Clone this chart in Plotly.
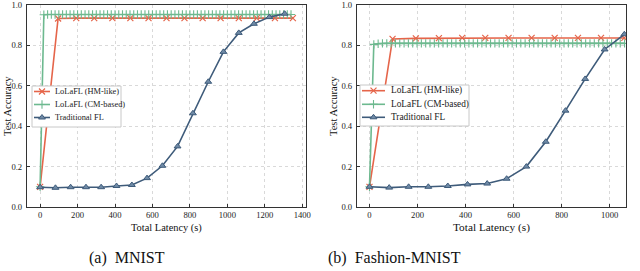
import plotly.graph_objects as go

# ---------------- data: MNIST ----------------
mn_hm_x = [0, 96, 193, 289, 386, 482, 579, 675, 771, 868, 964, 1061, 1157, 1254, 1350]
mn_hm_y = [0.10, 0.933, 0.935, 0.935, 0.935, 0.935, 0.935, 0.935, 0.935, 0.935, 0.935, 0.935, 0.935, 0.935, 0.935]

mn_cm_x = [0, 20, 40, 60, 80, 100, 120, 140, 160, 180, 200, 220, 240, 260, 280, 300, 320, 340,
           360, 380, 400, 420, 440, 460, 480, 500, 520, 540, 560, 580, 600, 620, 640, 660, 680,
           700, 720, 740, 760, 780, 800, 820, 840, 860, 880, 900, 920, 940, 960, 980, 1000,
           1020, 1040, 1060, 1080, 1100, 1120, 1140, 1160, 1180, 1200, 1220, 1240, 1260, 1280,
           1300, 1320, 1340]
mn_cm_y = [0.10, 0.952, 0.953, 0.953, 0.953, 0.953, 0.953, 0.953, 0.953, 0.953, 0.953, 0.953,
           0.953, 0.953, 0.953, 0.953, 0.953, 0.953, 0.953, 0.953, 0.953, 0.953, 0.953, 0.953,
           0.953, 0.953, 0.953, 0.953, 0.953, 0.953, 0.953, 0.953, 0.953, 0.953, 0.953, 0.953,
           0.953, 0.953, 0.953, 0.953, 0.953, 0.953, 0.953, 0.953, 0.953, 0.953, 0.953, 0.953,
           0.953, 0.953, 0.953, 0.953, 0.953, 0.953, 0.953, 0.953, 0.953, 0.953, 0.953, 0.953,
           0.953, 0.953, 0.953, 0.953, 0.953, 0.953, 0.953, 0.953]

mn_tr_x = [0, 82, 163, 245, 326, 408, 490, 571, 653, 734, 816, 898, 979, 1061, 1142, 1224, 1306]
mn_tr_y = [0.098, 0.095, 0.098, 0.098, 0.098, 0.104, 0.109, 0.143, 0.204, 0.300, 0.464,
           0.620, 0.768, 0.862, 0.907, 0.940, 0.957]

# ---------------- data: Fashion-MNIST ----------------
fm_hm_x = [0, 96, 193, 289, 386, 482, 579, 675, 771, 868, 964, 1061]
fm_hm_y = [0.10, 0.832, 0.835, 0.836, 0.837, 0.837, 0.837, 0.837, 0.837, 0.837, 0.837, 0.837]

fm_cm_x = [0, 18, 36, 54, 72, 90, 108, 126, 144, 162, 180, 198, 216, 234, 252, 270, 288, 306,
           324, 342, 360, 378, 396, 414, 432, 450, 468, 486, 504, 522, 540, 558, 576, 594, 612,
           630, 648, 666, 684, 702, 720, 738, 756, 774, 792, 810, 828, 846, 864, 882, 900, 918,
           936, 954, 972, 990, 1008, 1026, 1044, 1062]
fm_cm_y = [0.10, 0.805, 0.808, 0.81, 0.81, 0.81, 0.81, 0.81, 0.81, 0.81, 0.81, 0.81, 0.81, 0.81,
           0.81, 0.81, 0.81, 0.81, 0.81, 0.81, 0.81, 0.81, 0.81, 0.81, 0.81, 0.81, 0.81, 0.81,
           0.81, 0.81, 0.81, 0.81, 0.81, 0.81, 0.81, 0.81, 0.81, 0.81, 0.81, 0.81, 0.81, 0.81,
           0.81, 0.81, 0.81, 0.81, 0.81, 0.81, 0.81, 0.81, 0.81, 0.81, 0.81, 0.81, 0.81, 0.81,
           0.81, 0.81, 0.81, 0.81]

fm_tr_x = [0, 82, 163, 245, 326, 408, 490, 571, 653, 734, 816, 898, 979, 1061]
fm_tr_y = [0.100, 0.096, 0.100, 0.100, 0.104, 0.112, 0.116, 0.140, 0.200, 0.323, 0.477,
           0.634, 0.780, 0.855]

series_names = ["LoLaFL (HM-like)", "LoLaFL (CM-based)", "Traditional FL"]
x_ticks_a = [0, 200, 400, 600, 800, 1000, 1200, 1400]
x_ticks_b = [0, 200, 400, 600, 800, 1000]
y_ticks = [0.0, 0.2, 0.4, 0.6, 0.8, 1.0]
captions = ["(a)\u00a0\u00a0MNIST", "(b)\u00a0\u00a0Fashion-MNIST"]
x_title = "Total Latency (s)"
y_title = "Test Accuracy"

C_HM = "#E5654A"
C_CM = "#6DB98F"
C_TR = "#3E5B7A"
FONT = "Liberation Serif, Times New Roman, DejaVu Serif, serif"

W, H = 640, 271

def px_x(p):
    return p / W

def px_y(p):
    return 1 - p / H

styles = [
    dict(line=dict(color=C_HM, width=1.6),
         marker=dict(symbol="x-thin-open", size=6, color=C_HM, line=dict(color=C_HM, width=1.2))),
    dict(line=dict(color=C_CM, width=1.6),
         marker=dict(symbol="cross-thin-open", size=6, color=C_CM, line=dict(color=C_CM, width=1.1))),
    dict(line=dict(color=C_TR, width=1.6),
         marker=dict(symbol="triangle-up", size=6, color="#6F8AA6", line=dict(color=C_TR, width=1))),
]

# legend geometry (pixel layout of the manual legend boxes)
legends = [
    dict(box=(32, 86, 121, 127), rows=(91.5, 104.5, 117.5), line=(34, 50), text_x=53, font=8.4),
    dict(box=(360, 85, 469, 126), rows=(90.7, 104.3, 117.3), line=(362, 385), text_x=389, font=9.3),
]

fig = go.Figure()

panels = [
    dict(data=[(mn_hm_x, mn_hm_y), (mn_cm_x, mn_cm_y), (mn_tr_x, mn_tr_y)], xa="x", ya="y"),
    dict(data=[(fm_hm_x, fm_hm_y), (fm_cm_x, fm_cm_y), (fm_tr_x, fm_tr_y)], xa="x2", ya="y2"),
]

for p in panels:
    for i, (xs, ys) in enumerate(p["data"]):
        fig.add_trace(go.Scatter(x=xs, y=ys, name=series_names[i], mode="lines+markers",
                                 showlegend=False, xaxis=p["xa"], yaxis=p["ya"], **styles[i]))

# manual legends drawn in a pixel-space overlay subplot (x3/y3)
for lg in legends:
    x0, y0, x1, y1 = lg["box"]
    fig.add_trace(go.Scatter(x=[x0, x1, x1, x0, x0], y=[y0, y0, y1, y1, y0], mode="lines",
                             fill="toself", fillcolor="white",
                             line=dict(color="#C8C8C8", width=1), showlegend=False,
                             hoverinfo="skip", xaxis="x3", yaxis="y3"))
    lx0, lx1 = lg["line"]
    for i, ry in enumerate(lg["rows"]):
        fig.add_trace(go.Scatter(x=[lx0, lx1], y=[ry, ry], mode="lines", showlegend=False,
                                 hoverinfo="skip", line=styles[i]["line"], xaxis="x3", yaxis="y3"))
        fig.add_trace(go.Scatter(x=[(lx0 + lx1) / 2], y=[ry], mode="markers", showlegend=False,
                                 hoverinfo="skip", marker=styles[i]["marker"], xaxis="x3", yaxis="y3"))
        fig.add_annotation(text=series_names[i], x=lg["text_x"], y=ry, xref="x3", yref="y3",
                           xanchor="left", yanchor="middle", showarrow=False,
                           font=dict(family=FONT, size=lg["font"], color="#1A1A1A"))

axis_common = dict(showline=True, mirror=True, linecolor="#333333", linewidth=1.3,
                   showgrid=True, gridcolor="#D9D9D9", griddash="dot", gridwidth=1,
                   ticks="inside", ticklen=3, tickcolor="#333333", zeroline=False,
                   automargin=False,
                   tickfont=dict(family=FONT, size=8.6, color="#1A1A1A"))

fig.update_layout(
    template="none",
    width=W, height=H, margin=dict(l=0, r=0, t=0, b=0, autoexpand=False),
    paper_bgcolor="white", plot_bgcolor="rgba(0,0,0,0)",
    showlegend=False,
    xaxis=dict(domain=[px_x(27), px_x(306)], range=[-70, 1420], tickvals=x_ticks_a, anchor="y",
               ticklabelstandoff=0, **axis_common),
    yaxis=dict(domain=[px_y(207), px_y(5)], range=[0, 1.0], tickvals=y_ticks, tickformat=".1f",
               anchor="x", ticklabelstandoff=2, **axis_common),
    xaxis2=dict(domain=[px_x(357), px_x(626)], range=[-52, 1068], tickvals=x_ticks_b, anchor="y2",
                ticklabelstandoff=0, **axis_common),
    yaxis2=dict(domain=[px_y(207), px_y(5)], range=[0, 1.0], tickvals=y_ticks, tickformat=".1f",
                anchor="x2", ticklabelstandoff=2, **axis_common),
    xaxis3=dict(domain=[0, 1], range=[0, W], visible=False, showgrid=False, zeroline=False,
                automargin=False, anchor="y3", fixedrange=True),
    yaxis3=dict(domain=[0, 1], range=[H, 0], visible=False, showgrid=False, zeroline=False,
                automargin=False, anchor="x3", fixedrange=True),
)

annots = [
    dict(text=x_title, x=px_x(166.5), y=px_y(227.5), size=10.4, angle=0),
    dict(text=x_title, x=px_x(491), y=px_y(227.5), size=11.3, angle=0),
    dict(text=y_title, x=px_x(7), y=px_y(106), size=10.5, angle=-90),
    dict(text=y_title, x=px_x(333), y=px_y(106), size=10.5, angle=-90),
    dict(text=captions[0], x=px_x(127), y=px_y(258), size=16, angle=0),
    dict(text=captions[1], x=px_x(394), y=px_y(258), size=16, angle=0),
]
for a in annots:
    fig.add_annotation(text=a["text"], x=a["x"], y=a["y"], xref="paper", yref="paper",
                       xanchor="center", yanchor="middle", showarrow=False, textangle=a["angle"],
                       font=dict(family=FONT, size=a["size"], color="#111111"))

fig.write_html("out.html", config={"displayModeBar": False},
               post_script="document.body.style.margin='0';document.body.style.padding='0';")
